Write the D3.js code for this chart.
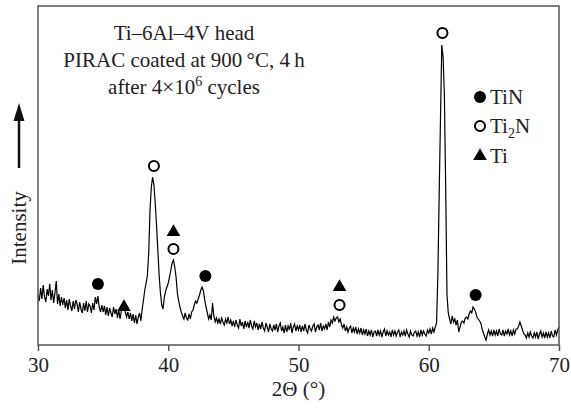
<!DOCTYPE html>
<html>
<head>
<meta charset="utf-8">
<script src="https://cdn.jsdelivr.net/npm/d3@7"></script>
<style>
  body { margin: 0; background: #fff; }
  svg { display: block; font-family: "Liberation Serif", "DejaVu Serif", serif; }
</style>
</head>
<body>
<svg id="chart"></svg>
<script>
const width = 571;
const height = 408;

// Scan: 2-theta from 30 to 70 deg in 0.1 deg steps, one row per degree (a.u.)
const scanStart = 30;
const scanStep = 0.1;
const intensity = [
  50, 44, 57, 46, 60, 48, 43, 56, 49, 61,   // 30
  45, 55, 42, 52, 64, 41, 51, 39, 48, 40,   // 31
  47, 37, 45, 35, 46, 39, 34, 44, 36, 45,   // 32
  41, 33, 43, 36, 32, 42, 34, 44, 33, 41,   // 33
  39, 32, 42, 35, 48, 41, 49, 38, 33, 40,   // 34
  33, 39, 30, 38, 29, 37, 32, 28, 38, 31,   // 35
  36, 27, 35, 26, 34, 36, 39, 33, 28, 33,   // 36
  26, 32, 24, 31, 22, 30, 21, 28, 32, 24,   // 37
  36, 45, 55, 62, 70, 92, 135, 158, 168, 160, // 38
  142, 120, 95, 70, 52, 40, 36, 48, 54, 58, // 39
  62, 68, 75, 82, 85, 78, 68, 52, 44, 38,   // 40
  33, 29, 26, 32, 27, 25, 31, 26, 33, 35,   // 41
  40, 44, 42, 46, 50, 55, 58, 54, 45, 38,   // 42
  32, 26, 30, 25, 42, 29, 23, 27, 22, 26,   // 43
  21, 27, 23, 20, 26, 22, 28, 21, 25, 19,   // 44
  24, 18, 25, 20, 17, 26, 19, 23, 16, 24,   // 45
  18, 23, 17, 25, 19, 16, 24, 18, 22, 15,   // 46
  21, 16, 23, 17, 14, 22, 18, 13, 21, 16,   // 47
  14, 20, 15, 21, 13, 19, 22, 14, 18, 12,   // 48
  20, 13, 19, 15, 22, 12, 18, 21, 14, 19,   // 49
  15, 20, 13, 19, 14, 21, 15, 12, 20, 16,   // 50
  14, 19, 21, 13, 18, 20, 15, 22, 14, 19,   // 51
  16, 21, 15, 23, 18, 25, 22, 28, 24, 27,   // 52
  28, 23, 26, 20, 17, 21, 14, 18, 13, 17,   // 53
  19, 12, 17, 13, 18, 11, 16, 12, 17, 10,   // 54
  15, 11, 16, 9, 14, 10, 15, 8, 13, 14,     // 55
  9, 15, 10, 14, 8, 13, 16, 9, 14, 10,      // 56
  13, 8, 15, 10, 14, 9, 13, 15, 8, 13,      // 57
  10, 14, 9, 15, 11, 8, 14, 10, 9, 13,      // 58
  14, 9, 13, 8, 15, 10, 14, 11, 9, 15,      // 59
  12, 16, 11, 17, 13, 18, 22, 70, 150, 225, // 60
  300, 288, 250, 158, 50, 32, 26, 21, 29, 23, // 61
  26, 20, 25, 13, 18, 23, 24, 22, 27, 28,   // 62
  26, 31, 34, 32, 38, 36, 33, 28, 26, 24,   // 63
  22, 16, 12, 8, 5, 11, 15, 10, 14, 9,      // 64
  15, 10, 14, 9, 16, 11, 10, 15, 9, 14,     // 65
  11, 16, 10, 14, 9, 15, 11, 16, 16, 19,    // 66
  23, 19, 15, 11, 10, 7, 12, 8, 13, 9,      // 67
  7, 12, 8, 13, 6, 11, 14, 8, 12, 7,        // 68
  13, 8, 12, 7, 14, 9, 8, 15, 10, 15,       // 69
  18                                        // 70
];

// Phase markers above the peaks: [2theta, height]
const tinPeaks  = [[34.6, 61], [42.85, 69], [63.6, 50]];
const ti2nPeaks = [[38.9, 179], [40.4, 96], [53.15, 40], [61.05, 312]];
const tiPeaks   = [[36.6, 38], [40.4, 113], [53.15, 58]];

const xTicks = [30, 40, 50, 60, 70];
const noteLines = ["Ti\u20136Al\u20134V head", "PIRAC coated at 900\u2009\u00b0C, 4\u2009h"];

const margin = {top: 6, right: 12, bottom: 63, left: 38};
const innerW = width - margin.left - margin.right;
const innerH = height - margin.top - margin.bottom;

const svg = d3.select("#chart")
    .attr("width", width)
    .attr("height", height);

const g = svg.append("g")
    .attr("transform", `translate(${margin.left},${margin.top})`);

const x = d3.scaleLinear().domain([30, 70]).range([0, innerW]);
const y = d3.scaleLinear().domain([0, 339]).range([innerH, 0]);

const points = intensity.map((v, i) => [scanStart + i * scanStep, v]);

const line = d3.line()
    .x(d => x(d[0]))
    .y(d => y(d[1]));

g.append("path")
    .datum(points)
    .attr("fill", "none")
    .attr("stroke", "#000")
    .attr("stroke-width", 1.2)
    .attr("d", line);

// frame
g.append("rect")
    .attr("width", innerW)
    .attr("height", innerH)
    .attr("fill", "none")
    .attr("stroke", "#555")
    .attr("stroke-width", 1.5);

const xAxis = g.append("g")
    .attr("transform", `translate(0,${innerH})`)
    .call(d3.axisBottom(x).tickValues(xTicks).tickSize(6).tickPadding(6));
xAxis.select(".domain").remove();
xAxis.selectAll("line").attr("stroke", "#555").attr("stroke-width", 1.5);
xAxis.selectAll("text")
    .attr("font-family", "Liberation Serif, serif")
    .attr("font-size", 21)
    .attr("fill", "#222");

svg.append("text")
    .attr("x", margin.left + innerW / 2)
    .attr("y", 396)
    .attr("text-anchor", "middle")
    .attr("font-size", 21)
    .attr("fill", "#222")
    .text("2\u0398 (\u00b0)");

// y label with arrow
svg.append("text")
    .attr("transform", "translate(26,228) rotate(-90)")
    .attr("text-anchor", "middle")
    .attr("font-size", 21)
    .attr("fill", "#222")
    .text("Intensity");

svg.append("line")
    .attr("x1", 19).attr("x2", 19)
    .attr("y1", 168).attr("y2", 118)
    .attr("stroke", "#111")
    .attr("stroke-width", 2.5);
svg.append("path")
    .attr("d", "M19,103 L13.5,121 L24.5,121 Z")
    .attr("fill", "#111");

// markers
const tri = d3.symbol().type(d3.symbolTriangle).size(80);

g.selectAll(".tin")
    .data(tinPeaks)
    .join("circle")
    .attr("class", "tin")
    .attr("cx", d => x(d[0]))
    .attr("cy", d => y(d[1]))
    .attr("r", 6)
    .attr("fill", "#000");

g.selectAll(".ti2n")
    .data(ti2nPeaks)
    .join("circle")
    .attr("class", "ti2n")
    .attr("cx", d => x(d[0]))
    .attr("cy", d => y(d[1]))
    .attr("r", 5)
    .attr("fill", "#fff")
    .attr("stroke", "#000")
    .attr("stroke-width", 2);

g.selectAll(".ti")
    .data(tiPeaks)
    .join("path")
    .attr("class", "ti")
    .attr("transform", d => `translate(${x(d[0])},${y(d[1])})`)
    .attr("d", tri)
    .attr("fill", "#000");

// note text
const note = svg.append("g")
    .attr("font-size", 21)
    .attr("fill", "#222")
    .attr("text-anchor", "middle");
noteLines.forEach((t, i) => {
    note.append("text")
        .attr("x", 184)
        .attr("y", 40 + i * 27)
        .text(t);
});
const n3 = note.append("text").attr("x", 184).attr("y", 94);
n3.append("tspan").text("after 4\u00d710");
n3.append("tspan").attr("dy", -8).attr("font-size", 14).text("6");
n3.append("tspan").attr("dy", 8).text(" cycles");

// legend
const legend = svg.append("g").attr("font-size", 21).attr("fill", "#222");
legend.append("circle").attr("cx", 480).attr("cy", 97).attr("r", 6).attr("fill", "#000");
legend.append("text").attr("x", 490).attr("y", 104).text("TiN");
legend.append("circle").attr("cx", 480).attr("cy", 126).attr("r", 5)
    .attr("fill", "#fff").attr("stroke", "#000").attr("stroke-width", 2);
const l2 = legend.append("text").attr("x", 490).attr("y", 133);
l2.append("tspan").text("Ti");
l2.append("tspan").attr("dy", 5).attr("font-size", 14).text("2");
l2.append("tspan").attr("dy", -5).text("N");
legend.append("path").attr("transform", "translate(480,156)").attr("d", tri).attr("fill", "#000");
legend.append("text").attr("x", 490).attr("y", 163).text("Ti");
</script>
</body>
</html>
